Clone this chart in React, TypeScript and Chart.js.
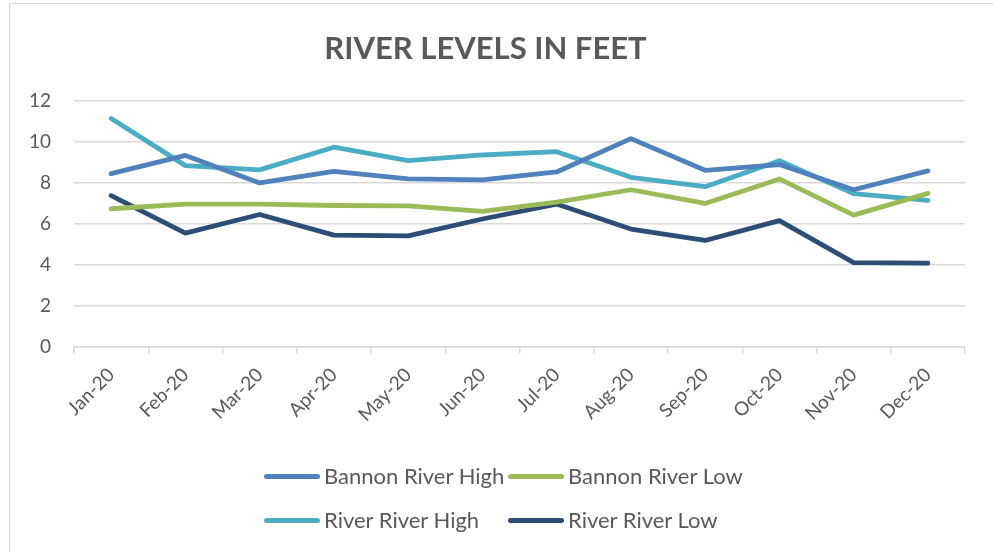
import React, { useEffect, useRef } from "react";
import { Chart, registerables } from "chart.js";

Chart.register(...registerables);

const months = ["Jan-20", "Feb-20", "Mar-20", "Apr-20", "May-20", "Jun-20", "Jul-20", "Aug-20", "Sep-20", "Oct-20", "Nov-20", "Dec-20"];
const bannonHigh = [8.46, 9.35, 8.0, 8.57, 8.2, 8.15, 8.54, 10.17, 8.62, 8.9, 7.67, 8.59];
const bannonLow = [6.74, 6.97, 6.97, 6.9, 6.88, 6.61, 7.07, 7.67, 7.0, 8.2, 6.43, 7.49];
const riverHigh = [11.15, 8.85, 8.64, 9.75, 9.09, 9.37, 9.53, 8.28, 7.82, 9.09, 7.48, 7.15];
const riverLow = [7.38, 5.55, 6.46, 5.45, 5.41, 6.24, 6.97, 5.75, 5.19, 6.16, 4.11, 4.08];

const seriesNames = ["Bannon River High", "Bannon River Low", "River River High", "River River Low"];
const seriesColors = ["#4F81BD", "#9BBB59", "#4BACC6", "#2C4D75"];
const yTicks = [0, 2, 4, 6, 8, 10, 12];

const FONT = "Lato, 'Open Sans', sans-serif";
const TEXT = "#595959";
const GRID = "#d9d9d9";

export default function App() {
  const ref = useRef<HTMLCanvasElement>(null);
  useEffect(() => {
    if (!ref.current) return;
    const values = [bannonHigh, bannonLow, riverHigh, riverLow];
    const chart = new Chart(ref.current, {
      type: "line",
      data: {
        labels: months,
        datasets: values.map((d, i) => ({
          label: seriesNames[i],
          data: d,
          borderColor: seriesColors[i],
          backgroundColor: seriesColors[i],
          borderWidth: 4.8,
          borderCapStyle: "round" as const,
          borderJoinStyle: "round" as const,
          pointRadius: 0,
          tension: 0,
        })),
      },
      options: {
        animation: false,
        responsive: false,
        maintainAspectRatio: false,
        layout: { padding: { left: 6, right: 28, top: 22, bottom: 116 } },
        plugins: {
          legend: { display: false },
          tooltip: { enabled: false },
          title: {
            display: true,
            text: "RIVER LEVELS IN FEET",
            color: TEXT,
            font: { family: FONT, size: 31, weight: "bold" },
            padding: { top: 8, bottom: 34 },
          },
        },
        scales: {
          x: {
            offset: true,
            grid: {
              display: true,
              offset: true,
              drawOnChartArea: false,
              drawTicks: true,
              tickLength: 7,
              tickColor: GRID,
              lineWidth: 1.5,
            },
            border: { display: true, color: GRID, width: 1.5 },
            ticks: {
              color: TEXT,
              font: { family: FONT, size: 19 },
              maxRotation: 45,
              minRotation: 45,
              padding: 10,
            },
          },
          y: {
            min: 0,
            max: 12,
            afterBuildTicks: (axis: any) => {
              axis.ticks = yTicks.map((v) => ({ value: v }));
            },
            grid: { color: GRID, lineWidth: 1.5, drawTicks: false },
            border: { display: false },
            ticks: {
              color: TEXT,
              font: { family: FONT, size: 19 },
              padding: 23,
            },
          },
        },
      },
    });
    return () => chart.destroy();
  }, []);

  const legendItem = (i: number) => (
    <div style={{ display: "flex", alignItems: "center" }}>
      <span style={{ display: "inline-block", width: 56, height: 5, borderRadius: 3, background: seriesColors[i], marginRight: 4 }} />
      <span>{seriesNames[i]}</span>
    </div>
  );

  return (
    <div style={{ position: "fixed", left: 0, top: 0, width: 993, height: 552, background: "#fff", overflow: "hidden" }}>
      <div style={{ position: "absolute", left: 9, top: 3, width: 990, height: 560, border: "1px solid #d9d9d9", boxSizing: "border-box" }} />
      <canvas ref={ref} width={993} height={552} style={{ position: "absolute", left: 0, top: 0 }} />
      <div
        style={{
          position: "absolute",
          left: 264,
          top: 462,
          display: "grid",
          gridTemplateColumns: "244px 244px",
          rowGap: 16,
          fontFamily: FONT,
          fontSize: 22,
          color: TEXT,
          lineHeight: "28px",
          whiteSpace: "nowrap",
        }}
      >
        {legendItem(0)}
        {legendItem(1)}
        {legendItem(2)}
        {legendItem(3)}
      </div>
    </div>
  );
}
